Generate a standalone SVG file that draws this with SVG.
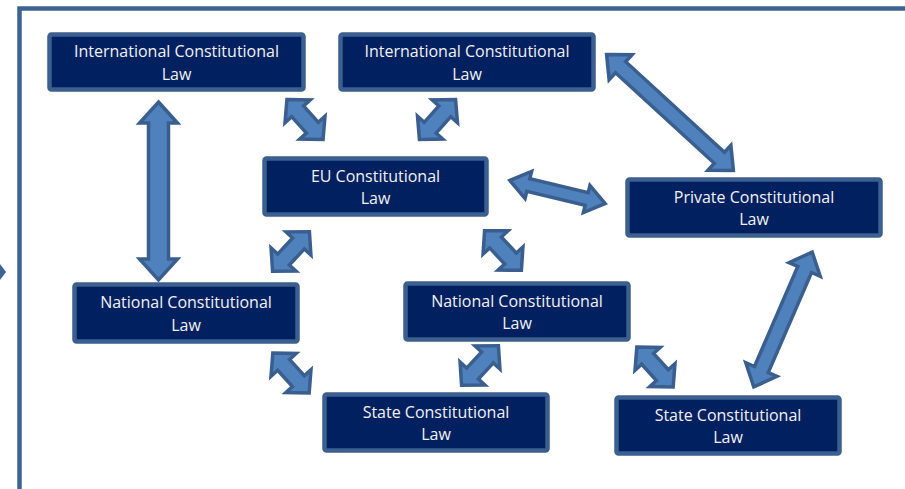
<svg xmlns="http://www.w3.org/2000/svg" width="905" height="489" viewBox="0 0 905 489">
<style>
.box{fill:#002060;stroke:#3b5f8f;stroke-width:4.5}
.arr{fill:#4f81bd;stroke:#3a5f8f;stroke-width:3.5;stroke-linejoin:miter}
.lbl{font-family:"Open Sans","Noto Sans",sans-serif;font-size:16px;fill:#f2f2f2;text-anchor:middle}
</style>
<defs>
<polygon id="sa" points="-27,0 -11,-17 -11,-8 11,-8 11,-17 27,0 11,17 11,8 -11,8 -11,17"/>
</defs>
<rect width="905" height="489" fill="#ffffff"/>
<rect x="19.5" y="8.5" width="1000" height="1000" fill="none" stroke="#3e6393" stroke-width="4.5"/>
<polygon points="0,264 6,272 0,280" fill="#3e6393"/>

<g id="connectors">
<polygon class="arr" transform="translate(158.5,191) rotate(90)" points="-89,0 -68,-19 -68,-10 68,-10 68,-19 89,0 68,19 68,10 -68,10 -68,19"/>
<use href="#sa" class="arr" transform="translate(305,119.5) rotate(48)"/>
<use href="#sa" class="arr" transform="translate(437.5,119.5) rotate(132)"/>
<polygon class="arr" transform="translate(557.5,192) rotate(13.6)" points="-49,0 -30,-14 -30,-6.5 30,-6.5 30,-14 49,0 30,14 30,6.5 -30,6.5 -30,14"/>
<polygon class="arr" transform="translate(670,112.5) rotate(42.5)" points="-86,0 -67,-17 -67,-7.5 67,-7.5 67,-17 86,0 67,17 67,7.5 -67,7.5 -67,17"/>
<use href="#sa" class="arr" transform="translate(291,251.5) rotate(133)"/>
<use href="#sa" class="arr" transform="translate(503,250.5) rotate(47)"/>
<use href="#sa" class="arr" transform="translate(291,373) rotate(47.7)"/>
<use href="#sa" class="arr" transform="translate(480,365.5) rotate(133)"/>
<use href="#sa" class="arr" transform="translate(655,367) rotate(47.7)"/>
<polygon class="arr" transform="translate(783,319.5) rotate(-66.6)" points="-73.5,0 -54.5,-17 -54.5,-7.5 54.5,-7.5 54.5,-17 73.5,0 54.5,17 54.5,7.5 -54.5,7.5 -54.5,17"/>
</g>

<g id="intl-left">
<rect class="box" x="49.5" y="34.5" width="254" height="55" rx="2"/>
<text class="lbl" x="176.5" y="57.3">International Constitutional</text>
<text class="lbl" x="176.5" y="80">Law</text>
</g>
<g id="intl-right">
<rect class="box" x="340.5" y="34.5" width="253" height="55" rx="2"/>
<text class="lbl" x="467" y="57.3">International Constitutional</text>
<text class="lbl" x="467" y="80">Law</text>
</g>
<g id="eu">
<rect class="box" x="264.5" y="158.5" width="222" height="56" rx="2"/>
<text class="lbl" x="375.5" y="181.7">EU Constitutional</text>
<text class="lbl" x="375.5" y="204">Law</text>
</g>
<g id="private">
<rect class="box" x="627.5" y="179.5" width="253" height="56" rx="2"/>
<text class="lbl" x="754" y="202.7">Private Constitutional</text>
<text class="lbl" x="754" y="225">Law</text>
</g>
<g id="national-left">
<rect class="box" x="74.5" y="284.5" width="223" height="57" rx="2"/>
<text class="lbl" x="186" y="308.2">National Constitutional</text>
<text class="lbl" x="186" y="330.5">Law</text>
</g>
<g id="national-mid">
<rect class="box" x="405.5" y="283.5" width="223" height="56" rx="2"/>
<text class="lbl" x="517" y="306.7">National Constitutional</text>
<text class="lbl" x="517" y="329">Law</text>
</g>
<g id="state-mid">
<rect class="box" x="324.5" y="394.5" width="223" height="56" rx="2"/>
<text class="lbl" x="436" y="417.7">State Constitutional</text>
<text class="lbl" x="436" y="440">Law</text>
</g>
<g id="state-right">
<rect class="box" x="616.5" y="397.5" width="223" height="56" rx="2"/>
<text class="lbl" x="728" y="420.7">State Constitutional</text>
<text class="lbl" x="728" y="443">Law</text>
</g>
</svg>
